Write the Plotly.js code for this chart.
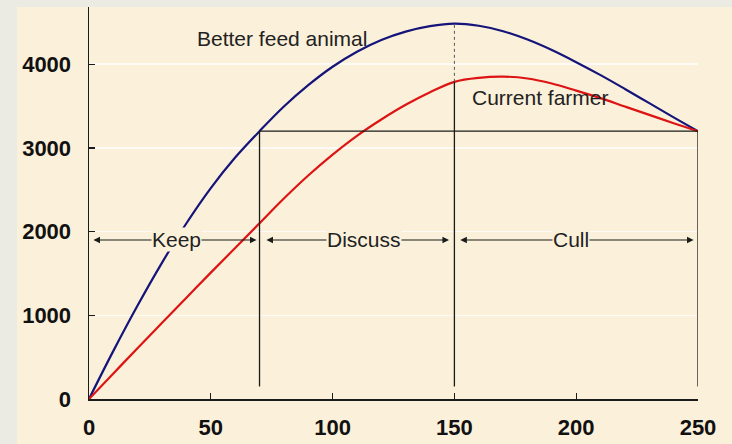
<!DOCTYPE html>
<html>
<head>
<meta charset="utf-8">
<script src="https://cdn.plot.ly/plotly-3.0.1.min.js"></script>
<style>
html,body{margin:0;padding:0;background:#ecebe3;}
#chart{width:732px;height:444px;}
</style>
</head>
<body>
<div id="chart"></div>
<script>
// Days in milk
var days = [0,10,20,30,40,50,60,70,80,90,100,110,120,130,140,150,160,170,180,190,200,210,220,230,240,250];
// Better feed animal
var betterFeed = [0,575,1120,1630,2100,2520,2885,3200,3495,3750,3970,4150,4290,4390,4455,4485,4460,4395,4295,4170,4025,3870,3705,3535,3365,3200];
// Current farmer
var currentFarmer = [0,305,610,910,1210,1510,1805,2100,2395,2670,2920,3145,3340,3515,3665,3790,3838,3852,3830,3770,3685,3595,3495,3395,3295,3200];

var seriesNames = ['Better feed animal','Current farmer'];
var zoneNames = ['Keep','Discuss','Cull'];
var zoneStart = [0,70,150];
var zoneEnd = [70,150,250];
var arrowLevel = 1900;
var cutLevel = 3200;      // horizontal reference level
var lineBottom = 150;     // where the vertical markers stop
var peakBetter = 4485, currentAt150 = 3790;
var xTicks = [0,50,100,150,200,250];
var yTicks = [0,1000,2000,3000,4000];

var ink = '#1b1b1b';
var font = 'Liberation Sans, Arial, sans-serif';
var traces = [
  {x: days, y: betterFeed, mode:'lines', line:{color:'#14147a', width:2.2, shape:'spline', smoothing:1}, name: seriesNames[0]},
  {x: days, y: currentFarmer, mode:'lines', line:{color:'#dc1414', width:2.2, shape:'spline', smoothing:1}, name: seriesNames[1]},
  {x:[zoneStart[1], zoneEnd[2]], y:[cutLevel, cutLevel], mode:'lines', line:{color:ink, width:1.3}},
  {x:[zoneStart[1], zoneStart[1]], y:[lineBottom, cutLevel], mode:'lines', line:{color:ink, width:1.3}},
  {x:[zoneStart[2], zoneStart[2]], y:[lineBottom, currentAt150], mode:'lines', line:{color:ink, width:1.3}},
  {x:[zoneStart[2], zoneStart[2]], y:[currentAt150, peakBetter], mode:'lines', line:{color:'#555', width:1, dash:'dot'}},
  {x:[zoneEnd[2], zoneEnd[2]], y:[lineBottom, cutLevel], mode:'lines', line:{color:ink, width:1.3}}
];

var annotations = [];
var pad = [1.2, 2.2, 1.8];
for (var i = 0; i < zoneNames.length; i++) {
  annotations.push({
    x: zoneEnd[i] - pad[i], y: arrowLevel, ax: zoneStart[i] + pad[i], ay: arrowLevel,
    xref:'x', yref:'y', axref:'x', ayref:'y', text:'', showarrow:true,
    arrowhead:2, startarrowhead:2, arrowside:'end+start',
    arrowsize:1.1, startarrowsize:1.1, arrowwidth:1.2, arrowcolor:ink, standoff:0, startstandoff:0
  });
}
var labelX = [36, 113, 198];
for (var j = 0; j < zoneNames.length; j++) {
  annotations.push({
    x: labelX[j], y: arrowLevel, xref:'x', yref:'y', text: zoneNames[j], showarrow:false,
    font:{family:font, size:21, color:'#222'},
    bgcolor:'#fbf1db', borderpad:0
  });
}
annotations.push({x:43.5, y:4313, xref:'x', yref:'y', xanchor:'left', text: seriesNames[0], showarrow:false,
  font:{family:font, size:21, color:'#222'}});
annotations.push({x:156.4, y:3605, xref:'x', yref:'y', xanchor:'left', text: seriesNames[1], showarrow:false,
  font:{family:font, size:21, color:'#222'}});

var layout = {
  width:732, height:444,
  margin:{l:89, r:34, t:7, b:45},
  paper_bgcolor:'#ecebe3',
  plot_bgcolor:'rgba(0,0,0,0)',
  showlegend:false,
  hovermode:false,
  shapes:[
    {type:'rect', xref:'paper', yref:'paper', x0:-0.1182, x1:1.06, y0:-0.12, y1:1, layer:'below',
     fillcolor:'#fbf0d9', line:{width:0}}
  ],
  xaxis:{
    range:[0,250], tickvals:xTicks, ticks:'inside', ticklen:6, tickcolor:ink, tickwidth:1.3,
    showline:true, linecolor:ink, linewidth:1.5, showgrid:false, zeroline:false,
    tickfont:{family:font, size:22, weight:'bold', color:'#111'},
    ticklabelstandoff:8
  },
  yaxis:{
    range:[0,4684], tickvals:yTicks, ticks:'inside', ticklen:6, tickcolor:ink, tickwidth:1.3,
    showline:true, linecolor:ink, linewidth:1.5, showgrid:true, gridcolor:'rgba(255,255,255,0.75)', gridwidth:1.5,
    zeroline:false,
    tickfont:{family:font, size:22, weight:'bold', color:'#111'},
    ticklabelstandoff:12
  },
  annotations: annotations
};

Plotly.newPlot('chart', traces, layout, {staticPlot:true, displayModeBar:false});
</script>
</body>
</html>
